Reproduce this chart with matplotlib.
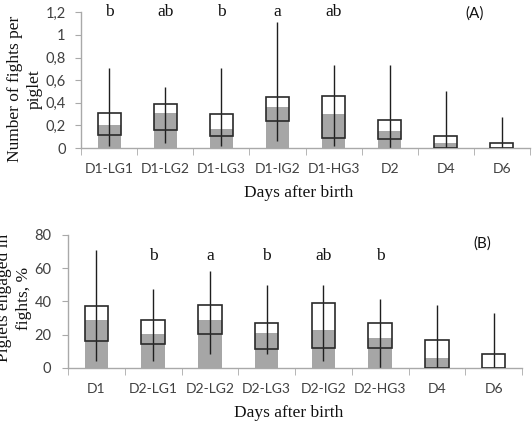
import matplotlib
matplotlib.use("Agg")
import matplotlib.pyplot as plt
import numpy as np

# ---------------- data ----------------
cats_A = ["D1-LG1", "D1-LG2", "D1-LG3", "D1-IG2", "D1-HG3", "D2", "D4", "D6"]
bar_A = [0.20, 0.31, 0.17, 0.36, 0.30, 0.15, 0.04, 0.0]
q1_A = [0.115, 0.155, 0.11, 0.24, 0.09, 0.077, 0.0, 0.0]
q3_A = [0.31, 0.39, 0.30, 0.455, 0.46, 0.248, 0.11, 0.044]
min_A = [0.02, 0.04, 0.02, 0.06, 0.015, 0.0, 0.0, 0.0]
max_A = [0.71, 0.54, 0.71, 1.11, 0.73, 0.735, 0.505, 0.27]
letters_A = ["b", "ab", "b", "a", "ab", "", "", ""]
yticks_A = [0, 0.2, 0.4, 0.6, 0.8, 1.0, 1.2]
yticklabels_A = ["0", "0,2", "0,4", "0,6", "0,8", "1", "1,2"]

cats_B = ["D1", "D2-LG1", "D2-LG2", "D2-LG3", "D2-IG2", "D2-HG3", "D4", "D6"]
bar_B = [28.9, 20.1, 29.0, 20.7, 22.5, 18.1, 5.6, 0.0]
q1_B = [16.0, 14.5, 20.6, 11.0, 12.0, 12.0, 0.0, 0.0]
q3_B = [37.4, 28.9, 37.5, 27.1, 38.8, 27.1, 16.5, 8.0]
min_B = [4.0, 4.0, 8.0, 8.0, 4.0, 0.0, 0.0, 0.0]
max_B = [71.2, 47.5, 58.3, 50.0, 50.0, 41.6, 37.5, 33.2]
letters_B = ["", "b", "a", "b", "ab", "b", "", ""]
yticks_B = [0, 20, 40, 60, 80]
yticklabels_B = ["0", "20", "40", "60", "80"]

# ---------------- style ----------------
W, H = 532, 426
SERIF = "Liberation Serif"
SANS = "Lato"
GREY_BAR = "#a6a6a6"
SPINE = "#a9a9a9"
TXT = "#404040"

fig = plt.figure(figsize=(W / 100, H / 100), dpi=100)


def make_axes(left, right, bottom, top):
    return fig.add_axes([left / W, 1 - bottom / H, (right - left) / W, (bottom - top) / H])


def draw_panel(ax, cats, bar, q1, q3, mn, mx, letters, ymax, yticks, ylabels,
               letter_y, panel_txt, panel_xy, ypad):
    x = np.arange(len(cats))
    width = 0.41
    ax.bar(x, bar, width=width, color=GREY_BAR, zorder=1, linewidth=0)
    ax.vlines(x, mn, mx, color="#1f1f1f", lw=1.0, zorder=2)
    ax.bar(x, np.array(q3) - np.array(q1), bottom=q1, width=width,
           facecolor="none", edgecolor="#2a2a2a", lw=1.2, zorder=3)
    ax.set_xlim(-0.5, len(cats) - 0.5)
    ax.set_ylim(0, ymax)
    for s in ["top", "right"]:
        ax.spines[s].set_visible(False)
    for s in ["left", "bottom"]:
        ax.spines[s].set_color(SPINE)
        ax.spines[s].set_linewidth(1.0)
    ax.set_yticks(yticks)
    ax.set_yticklabels(ylabels, fontfamily=SANS, fontsize=10.5, color=TXT)
    ax.tick_params(axis="y", direction="out", length=4, color=SPINE, pad=ypad)
    ax.set_xticks(x)
    ax.set_xticklabels(cats, fontfamily=SANS, fontsize=10, color=TXT)
    ax.tick_params(axis="x", which="major", length=0, pad=11)
    ax.set_xticks(np.arange(-0.5, len(cats)), minor=True)
    ax.tick_params(axis="x", which="minor", direction="out", length=5, color=SPINE)
    for xi, lt in zip(x, letters):
        if lt:
            ax.text(xi, letter_y, lt, ha="center", va="center",
                    fontfamily=SERIF, fontsize=12.5, color="#111111")
    ax.text(panel_xy[0], panel_xy[1], panel_txt, ha="center", va="center",
            fontfamily=SANS, fontsize=11, color="#111111")
    ax.patch.set_alpha(0)


axA = make_axes(81, 530, 148, 12.3)
draw_panel(axA, cats_A, bar_A, q1_A, q3_A, min_A, max_A, letters_A, 1.2,
           yticks_A, yticklabels_A, 1.2, "(A)", (6.51, 1.19), 7)
axA.yaxis.get_major_ticks()  # keep ticks

axB = make_axes(68, 522, 367.7, 235)
draw_panel(axB, cats_B, bar_B, q1_B, q3_B, min_B, max_B, letters_B, 80,
           yticks_B, yticklabels_B, 67.3, "(B)", (6.8, 75.1), 8)

# axis titles
fig.text(299 / W, 1 - 193 / H, "Days after birth", ha="center", va="center",
         fontfamily=SERIF, fontsize=12.5, color="#111111")
fig.text(289 / W, 1 - 413 / H, "Days after birth", ha="center", va="center",
         fontfamily=SERIF, fontsize=12.5, color="#111111")
fig.text(25 / W, 1 - 89 / H, "Number of fights per\npiglet", ha="center", va="center",
         rotation=90, fontfamily=SERIF, fontsize=12.5, color="#111111",
         linespacing=1.35)
fig.text(14 / W, 1 - 298 / H, "Piglets engaged in\nfights, %", ha="center", va="center",
         rotation=90, fontfamily=SERIF, fontsize=12.5, color="#111111",
         linespacing=1.35)

fig.savefig("out.png", dpi=100, facecolor="white")
